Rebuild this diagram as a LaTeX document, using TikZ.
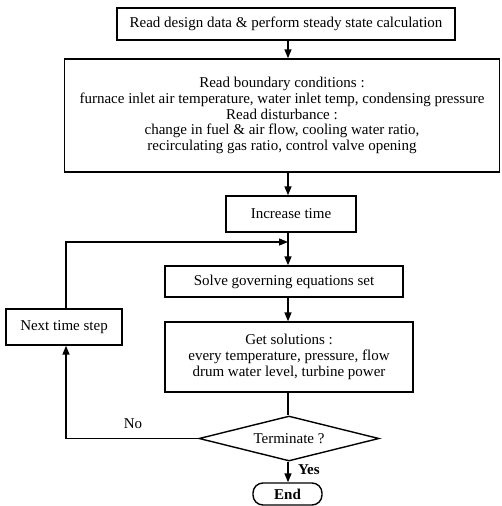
\documentclass[tikz,border=0pt]{standalone}
\usepackage{fontspec}
\setmainfont{Liberation Serif}
\usetikzlibrary{arrows.meta,shapes.geometric}
\begin{document}
\begin{tikzpicture}[x=1pt,y=-1pt,
  box/.style={draw,line width=1.4pt,inner sep=0pt,align=center,font=\fontsize{15}{15.7}\selectfont},
  arr/.style={line width=1.4pt,-{Triangle[length=9pt,width=7pt]}},
  ln/.style={line width=1.4pt}]
\useasboundingbox (0,0) rectangle (501,506);
\node[box,minimum width=338,minimum height=32] (b1) at (286,24) {Read design data \& perform steady state calculation};
\node[box,minimum width=435,minimum height=113] (b2) at (282,115.5) {Read boundary conditions :\\furnace inlet air temperature, water inlet temp, condensing pressure\\Read disturbance :\\change in fuel \& air flow, cooling water ratio,\\recirculating gas ratio, control valve opening};
\node[box,minimum width=130,minimum height=36] (b3) at (291,214) {Increase time};
\coordinate (j) at (288,242);
\node[box,minimum width=238,minimum height=31] (b4) at (284,281.5) {Solve governing equations set};
\node[box,minimum width=248,minimum height=70] (b5) at (289,357) {Get solutions :\\every temperature, pressure, flow\\drum water level, turbine power};
\node[box,minimum width=116,minimum height=36] (nx) at (64,327) {Next time step};
\node[box,diamond,aspect=4,minimum width=180,minimum height=45] (d) at (289,438.5) {Terminate ?};
\node[box,rounded corners=10pt,minimum width=69,minimum height=22,font=\fontsize{15}{16}\selectfont\bfseries] (e) at (287.5,494) {End};
\coordinate (c1) at (66,438.5);
\coordinate (c2) at (66,242);
\draw[arr] (b1.south -| j) -- (b2.north -| j);
\draw[arr] (b2.south -| j) -- (b3.north -| j);
\draw[ln] (b3.south -| j) -- (j);
\draw[arr] (j) -- (b4.north -| j);
\draw[arr] (b4.south -| j) -- (b5.north -| j);
\draw[ln] (b5.south -| j) -- (d.north -| j);
\draw[arr] (d.south -| j) -- (e.north -| j) node[pos=0.4,right=6pt,font=\fontsize{15}{16}\selectfont\bfseries] {Yes};
\draw[arr] (d.west) -- (c1) -- (nx.south -| c1);
\draw[arr] (nx.north -| c2) -- (c2) -- (j);
\node[font=\fontsize{15}{16}\selectfont] (no) at (133,424) {No};
\end{tikzpicture}
\end{document}
